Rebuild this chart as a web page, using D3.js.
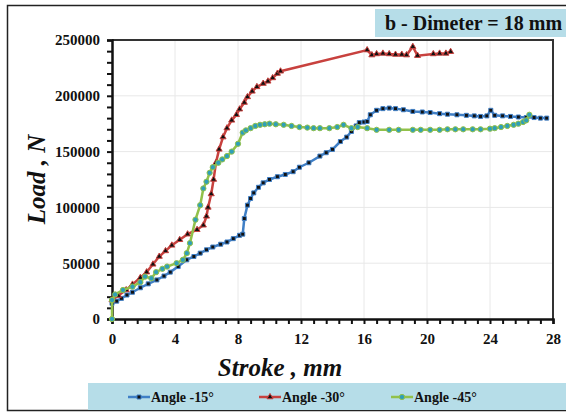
<!DOCTYPE html>
<html>
<head>
<meta charset="utf-8">
<script src="https://cdn.jsdelivr.net/npm/d3@7"></script>
<style>
  body { margin: 0; background: #fff; }
  svg text { font-family: "Liberation Serif", "Times New Roman", serif; font-weight: bold; }
</style>
</head>
<body>
<div id="chart"></div>
<script>
// stroke (mm), load (N)
var angle15 = [[0,14000],[0.3,16000],[0.6,18500],[0.95,21500],[1.3,24000],[1.8,28000],[2.3,31500],[2.85,35000],[3.3,38500],[3.7,42000],[4.2,47000],[4.75,53000],[5.2,56000],[5.6,59000],[6.0,62000],[6.4,64500],[6.9,67000],[7.3,69000],[7.7,72000],[8.1,75000],[8.3,76000],[8.4,90000],[8.6,102000],[8.8,108000],[9.0,113000],[9.3,118000],[9.6,122000],[10.0,125000],[10.5,127500],[11.0,129500],[11.5,132000],[11.9,136000],[12.5,140000],[13.2,146000],[13.6,149000],[14.0,152000],[14.5,159000],[14.9,163000],[15.2,168000],[15.5,173000],[15.7,176000],[16.0,176500],[16.2,177000],[16.4,183000],[16.8,187000],[17.2,188500],[17.6,189000],[18.0,188500],[18.5,187500],[19.1,186000],[19.7,185500],[20.2,185000],[20.8,184000],[21.3,183500],[21.9,183000],[22.5,182500],[23.0,182000],[23.4,181500],[23.8,182000],[24.05,187000],[24.3,182500],[24.8,182000],[25.3,181500],[25.8,181000],[26.3,180500],[26.8,180500],[27.2,180000],[27.6,180000]];

var angle30 = [[0,17000],[0.4,21000],[0.9,26000],[1.3,31000],[1.8,37000],[2.2,42000],[2.6,49000],[3.0,56000],[3.4,61000],[3.8,66000],[4.3,71000],[4.8,76000],[5.4,80000],[5.8,84000],[6.0,92000],[6.1,100000],[6.3,112000],[6.45,125000],[6.6,140000],[6.8,152000],[7.05,163000],[7.3,171000],[7.6,178000],[7.9,183000],[8.1,188000],[8.4,194000],[8.6,199000],[8.9,204000],[9.2,208000],[9.6,211000],[9.9,213000],[10.2,216000],[10.5,220000],[10.7,222000],[16.2,241000],[16.5,236500],[16.8,237500],[17.2,238000],[17.6,237500],[18.0,237000],[18.4,237000],[18.7,236500],[19.1,244000],[19.4,236000],[20.4,237500],[20.8,238000],[21.2,238000],[21.5,239500]];

var angle45 = [[0,0],[0,17000],[0.2,22000],[0.7,26000],[1.3,29000],[1.8,33000],[2.1,38000],[2.5,36500],[2.8,42000],[3.2,45000],[3.5,47000],[4.1,50000],[4.5,53000],[4.75,59000],[4.95,68000],[5.3,89000],[5.6,102000],[5.8,117000],[6.0,123000],[6.2,131000],[6.4,136000],[6.75,140000],[7.0,143000],[7.3,146000],[7.6,150000],[8.0,157000],[8.3,167000],[8.5,169000],[8.8,171000],[9.1,173000],[9.4,174000],[9.7,174500],[10.0,175000],[10.4,174500],[10.9,174000],[11.4,173000],[11.9,172000],[12.4,171500],[12.8,171000],[13.2,171000],[13.8,171000],[14.3,172000],[14.7,174000],[15.2,171000],[15.6,172000],[16.2,171000],[16.8,169500],[17.6,169500],[18.2,169500],[19.1,169500],[19.6,169500],[20.2,169500],[20.8,169500],[21.3,170000],[21.8,170000],[22.3,170000],[22.9,170000],[23.4,170000],[24.0,170500],[24.3,171000],[24.7,172000],[25.1,173000],[25.5,174000],[25.8,175000],[26.1,176500],[26.3,178000],[26.5,183000]];

var seriesNames = ["Angle -15°", "Angle -30°", "Angle -45°"];
var xTicks = [0, 4, 8, 12, 16, 20, 24, 28];
var yTicks = [0, 50000, 100000, 150000, 200000, 250000];
var title = "b - Dimeter = 18 mm";

var series = [
  {name: seriesNames[0], values: angle15, color: "#3f7fc6", marker: "square", mfill: "#111"},
  {name: seriesNames[1], values: angle30, color: "#c8413e", marker: "triangle", mfill: "#111"},
  {name: seriesNames[2], values: angle45, color: "#92c14a", marker: "circle", mfill: "#2f9fb8"}
];

var W = 566, H = 414;
var margin = {top: 40, right: 13, bottom: 95, left: 112},
    width = W - margin.left - margin.right,
    height = H - margin.top - margin.bottom;

var serif = "'Liberation Serif', 'Times New Roman', serif";

var svg = d3.select("#chart").append("svg")
    .attr("width", W)
    .attr("height", H)
    .attr("font-family", serif);

// outer frame
svg.append("rect")
    .attr("x", 7.5).attr("y", 5.5)
    .attr("width", W).attr("height", 405)
    .attr("fill", "none")
    .attr("stroke", "#222")
    .attr("stroke-width", 1.5);

var xScale = d3.scaleLinear().domain([0, 28]).range([0, width]),
    yScale = d3.scaleLinear().domain([0, 250000]).range([height, 0]);

var g = svg.append("g")
    .attr("transform", "translate(" + margin.left + "," + margin.top + ")");

// grid
g.append("g").selectAll("line")
    .data(xTicks.slice(1, -1))
    .enter().append("line")
    .attr("x1", function(d) { return xScale(d); })
    .attr("x2", function(d) { return xScale(d); })
    .attr("y1", 0).attr("y2", height)
    .attr("stroke", "#e8e8e8");

g.append("g").selectAll("line")
    .data(yTicks.slice(1, -1))
    .enter().append("line")
    .attr("y1", function(d) { return yScale(d); })
    .attr("y2", function(d) { return yScale(d); })
    .attr("x1", 0).attr("x2", width)
    .attr("stroke", "#e8e8e8");

// top and right border of the plot
g.append("path")
    .attr("d", "M0,0H" + width + "V" + height)
    .attr("fill", "none")
    .attr("stroke", "#333")
    .attr("stroke-width", 2);

// minor ticks
var xMinor = d3.range(0, 28.01, 0.8);
var yMinor = d3.range(0, 250001, 10000);

var xAxis = d3.axisBottom(xScale).tickValues(xMinor).tickSize(5).tickFormat("");
var yAxis = d3.axisLeft(yScale).tickValues(yMinor).tickSize(5).tickFormat("");

g.append("g")
    .attr("transform", "translate(0," + height + ")")
    .call(xAxis)
    .call(function(s) {
      s.selectAll("line").attr("stroke", "#111").attr("stroke-width", 2);
      s.select(".domain").attr("stroke", "#111").attr("stroke-width", 2.5);
    });

g.append("g")
    .call(yAxis)
    .call(function(s) {
      s.selectAll("line").attr("stroke", "#111").attr("stroke-width", 2);
      s.select(".domain").attr("stroke", "#111").attr("stroke-width", 2.5);
    });

function styleLabels(s) {
  s.select(".domain").remove();
  s.attr("font-family", serif).attr("font-size", 15);
  s.selectAll("text").attr("fill", "#111");
}

// major labels
g.append("g")
    .attr("transform", "translate(0," + height + ")")
    .call(d3.axisBottom(xScale).tickValues(xTicks).tickSize(0).tickPadding(14).tickFormat(d3.format("d")))
    .call(styleLabels);

g.append("g")
    .call(d3.axisLeft(yScale).tickValues(yTicks).tickSize(0).tickPadding(12).tickFormat(d3.format("d")))
    .call(styleLabels);

var line = d3.line()
    .x(function(d) { return xScale(d[0]); })
    .y(function(d) { return yScale(d[1]); });

var sym = {square: d3.symbolSquare, triangle: d3.symbolTriangle, circle: d3.symbolCircle};

function drawMarkers(sel, s, size) {
  sel.attr("d", d3.symbol().type(sym[s.marker]).size(size))
     .attr("fill", s.mfill)
     .attr("stroke", s.color)
     .attr("stroke-width", 1);
}

series.forEach(function(s) {
  g.append("path")
      .datum(s.values)
      .attr("d", line)
      .attr("fill", "none")
      .attr("stroke", s.color)
      .attr("stroke-width", 2.5);

  g.append("g").selectAll("path")
      .data(s.values)
      .enter().append("path")
      .attr("transform", function(d) { return "translate(" + xScale(d[0]) + "," + yScale(d[1]) + ")"; })
      .call(drawMarkers, s, s.marker == "circle" ? 22 : 16);
});

// axis titles
svg.append("text")
    .attr("transform", "translate(45," + (margin.top + height / 2) + ") rotate(-90)")
    .attr("text-anchor", "middle")
    .attr("font-size", 25)
    .attr("font-style", "italic")
    .attr("fill", "#111")
    .text("Load  , N");

svg.append("text")
    .attr("x", 280)
    .attr("y", 376)
    .attr("text-anchor", "middle")
    .attr("font-size", 25)
    .attr("font-style", "italic")
    .attr("fill", "#111")
    .text("Stroke , mm");

// title box
svg.append("rect")
    .attr("x", 375).attr("y", 9)
    .attr("width", 191).attr("height", 28)
    .attr("fill", "#b6dde8");

svg.append("text")
    .attr("x", 385).attr("y", 30)
    .attr("font-size", 20)
    .attr("fill", "#111")
    .text(title);

// legend
svg.append("rect")
    .attr("x", 88).attr("y", 383)
    .attr("width", 478).attr("height", 27)
    .attr("fill", "#b6dde8");

var legendX = [128, 259, 391];
var leg = svg.append("g").selectAll("g")
    .data(series)
    .enter().append("g")
    .attr("transform", function(d, i) { return "translate(" + legendX[i] + ",397)"; });

leg.append("line")
    .attr("x1", 0).attr("x2", 22)
    .attr("stroke", function(d) { return d.color; })
    .attr("stroke-width", 2.5);

leg.append("path")
    .attr("transform", "translate(11,0)")
    .each(function(d) { d3.select(this).call(drawMarkers, d, d.marker == "circle" ? 22 : 16); });

leg.append("text")
    .attr("x", 23).attr("y", 5)
    .attr("font-size", 14)
    .attr("fill", "#111")
    .text(function(d) { return d.name; });
</script>
</body>
</html>
